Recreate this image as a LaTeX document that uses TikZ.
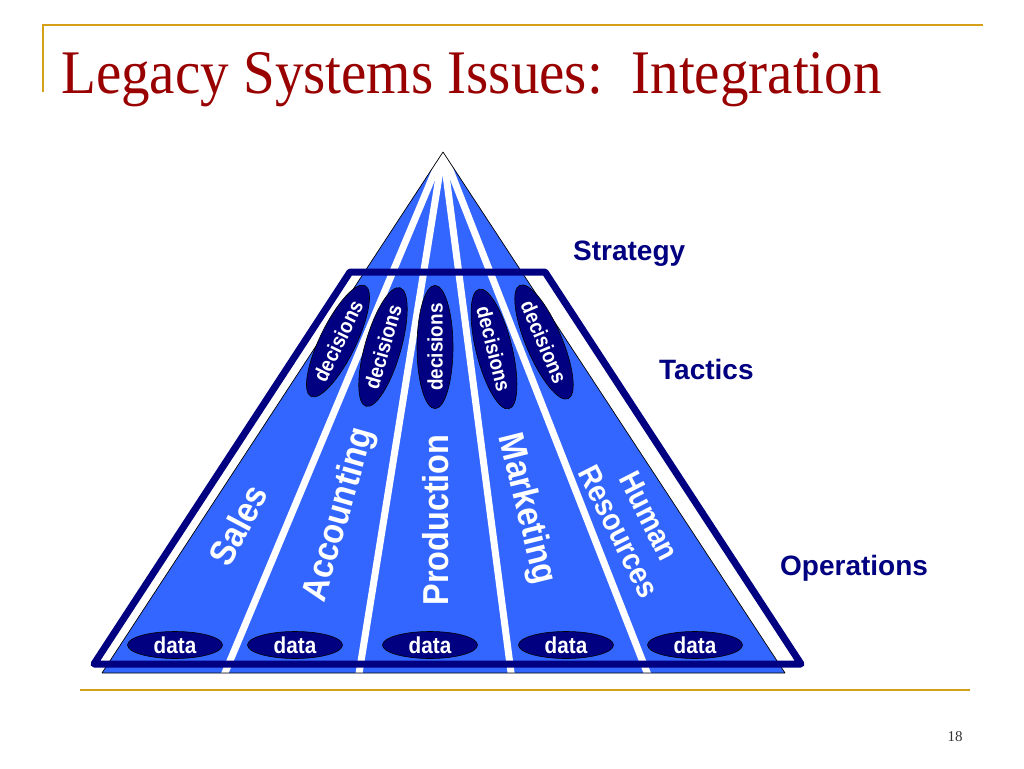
\documentclass[tikz,border=0pt]{standalone}
\usepackage{fontspec}
\setmainfont{Liberation Serif}
\setsansfont{Liberation Sans}
\newfontfamily\titlefont{Liberation Serif}[FakeStretch=0.92]
\newfontfamily\condsans{Liberation Sans}[FakeStretch=0.9]
\usetikzlibrary{shapes.geometric}
\definecolor{gold}{RGB}{212,160,23}
\definecolor{navy}{RGB}{0,0,128}
\definecolor{pyrblue}{RGB}{51,102,255}
\definecolor{titlered}{RGB}{153,0,0}
\begin{document}
\begin{tikzpicture}[x=1pt,y=-1pt,
  rule/.style={draw=gold,line width=2pt},
  oval/.style={ellipse,fill=navy,draw=black,line width=0.6pt,inner sep=0pt,text=white},
  decbox/.style={oval,minimum width=114pt,minimum height=36pt,font={\condsans\bfseries\fontsize{21}{23}\selectfont}},
  databox/.style={oval,minimum width=95pt,minimum height=27pt,font={\condsans\bfseries\fontsize{23}{25}\selectfont}},
  sector/.style={text=white,inner sep=0pt,font={\condsans\bfseries\fontsize{36}{40}\selectfont}},
  level/.style={text=navy,inner sep=0pt,anchor=base west,font={\sffamily\bfseries\fontsize{28}{32}\selectfont}},
  stripe/.style={draw=white,line width=7pt},
]
\useasboundingbox (0,0) rectangle (1024,768);
\fill[white] (0,0) rectangle (1024,768);
% rules
\draw[rule] (43,92) -- (43,25) -- (983,25);
\draw[rule] (80,690) -- (970,690);
\node[anchor=base west,inner sep=0pt,text=titlered,font={\titlefont\fontsize{62}{70}\selectfont}] (title) at (61,93) {Legacy Systems Issues:\ \ Integration};
\node[inner sep=0pt,text=black!80,font={\fontsize{15}{18}\selectfont}] (page) at (955,737) {18};
% pyramid
\coordinate (apex) at (443,152);
\coordinate (bl) at (102,673);
\coordinate (br) at (785,673);
\fill[pyrblue] (apex) -- (bl) -- (br) -- cycle;
\begin{scope}
\clip (apex) -- (bl) -- (br) -- cycle;
\draw[stripe] (222,680) -- (443,152);
\draw[stripe] (358,680) -- (443,152);
\draw[stripe] (512,680) -- (443,152);
\draw[stripe] (650,680) -- (443,152);
\end{scope}
\draw[black,line width=0.7pt,line join=round] (apex) -- (bl) -- (br) -- cycle;
% frame
\draw[navy,line width=7pt,line join=round] (350,272) -- (545,272) -- (801,664) -- (94,664) -- cycle;
% decisions
\node[decbox,rotate=64] (dec1) at (338,341) {decisions};
\node[decbox,rotate=74] (dec2) at (383,347) {decisions};
\node[decbox,rotate=90] (dec3) at (435,347) {decisions};
\node[decbox,rotate=-76] (dec4) at (494,349) {decisions};
\node[decbox,rotate=-67] (dec5) at (544,342) {decisions};
% data
\node[databox] (data1) at (175,645) {data};
\node[databox] (data2) at (295,645) {data};
\node[databox] (data3) at (430,645) {data};
\node[databox] (data4) at (566,645) {data};
\node[databox] (data5) at (695,645) {data};
% sectors
\node[sector,rotate=62] (sales) at (238,525) {Sales};
\node[sector,rotate=74] (acc) at (340,515) {Accounting};
\node[sector,rotate=90] (prod) at (436,520) {Production};
\node[sector,rotate=-76] (mkt) at (526,509) {Marketing};
\node[sector,rotate=-63,align=center,font={\condsans\bfseries\fontsize{31}{34}\selectfont}] (hr) at (634,524) {Human\\Resources};
% levels
\node[level] (strategy) at (573,260) {Strategy};
\node[level] (tactics) at (659,379) {Tactics};
\node[level] (ops) at (780,575) {Operations};
\end{tikzpicture}
\end{document}
